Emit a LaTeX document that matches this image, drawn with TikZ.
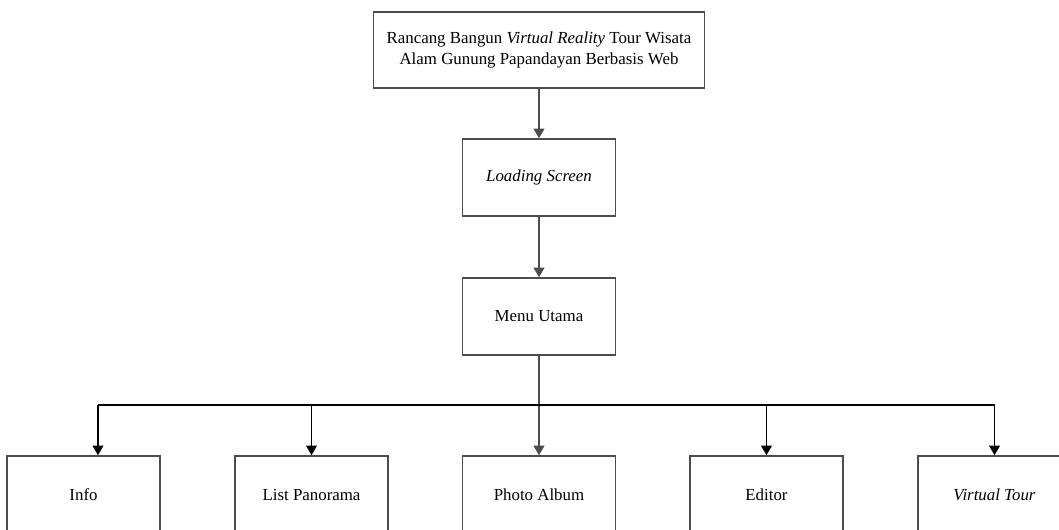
\documentclass[tikz,border=0pt]{standalone}
\usepackage{fontspec}
\setmainfont{Liberation Serif}
\usetikzlibrary{arrows.meta,positioning}

\tikzset{
  kotak/.style={draw=black!70, line width=1.1pt, fill=white, align=center,
    minimum width=3.825cm, minimum height=1.925cm, inner sep=0pt,
    font=\fontsize{12}{14.3}\selectfont},
  panah/.style={draw=black!70, line width=1.1pt, -{Triangle[length=2.4mm,width=2.7mm]}},
  cabang/.style={draw=black, line width=1pt, -{Triangle[length=2.4mm,width=2.7mm]}}
}

\begin{document}
\begin{tikzpicture}[x=0.025cm, y=-0.025cm]
  \useasboundingbox (0,0) rectangle (1059,529);

  % Judul
  \node[kotak, minimum width=8.275cm, minimum height=1.9cm] (judul) at (539,50)
    {Rancang Bangun \textit{Virtual Reality} Tour Wisata\\Alam Gunung Papandayan Berbasis Web};

  % Alur utama
  \node[kotak] (loading) at (539,177.5) {\textit{Loading Screen}};
  \node[kotak] (menu) at (539,316.5) {Menu Utama};

  % Sub menu
  \node[kotak] (info) at (83.5,494.5) {Info};
  \node[kotak] (panorama) at (311.5,494.5) {List Panorama};
  \node[kotak] (album) at (539,494.5) {Photo Album};
  \node[kotak] (editor) at (766.5,494.5) {Editor};
  \node[kotak] (tour) at (994.5,494.5) {\textit{Virtual Tour}};

  \coordinate (titik) at (539,405);
  \coordinate (kiri) at (98,405);

  \draw[panah] (judul) -- (loading);
  \draw[panah] (loading) -- (menu);
  \draw[panah] (menu) -- (album);
  \draw[black, line width=1pt] (kiri) -- (titik -| tour);
  \draw[cabang] (kiri) -- (kiri |- info.north);
  \foreach \n in {panorama,editor,tour}
    \draw[cabang] (titik -| \n) -- (\n.north);
\end{tikzpicture}
\end{document}
